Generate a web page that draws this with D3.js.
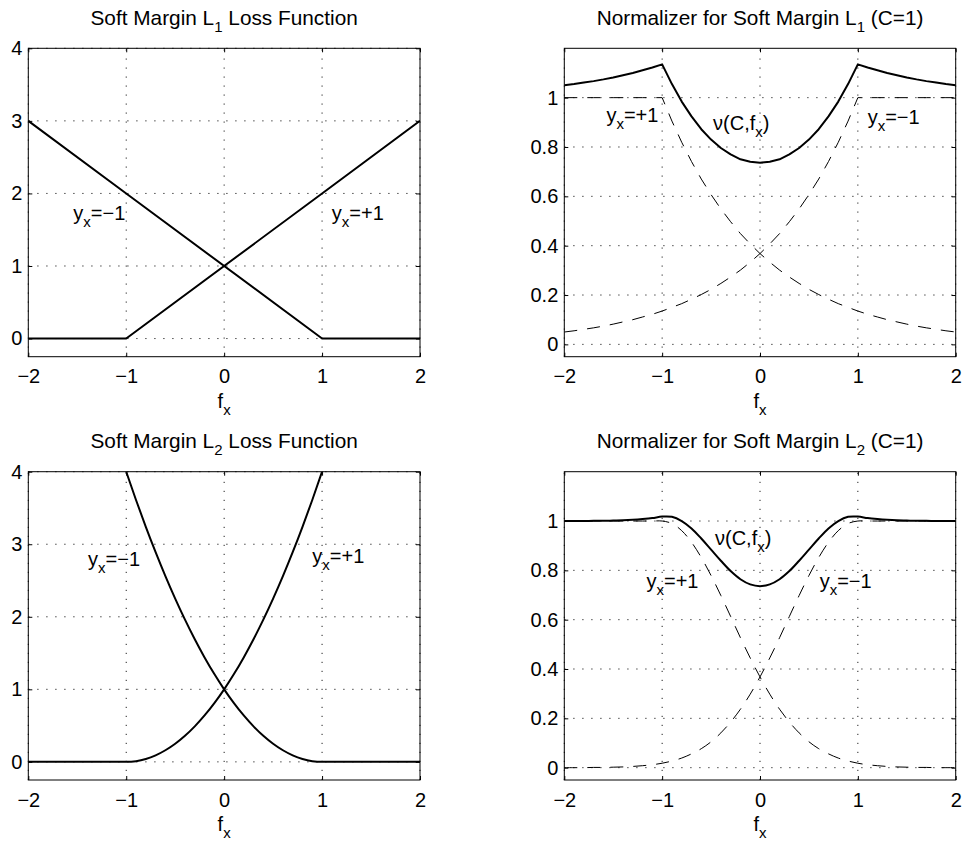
<!DOCTYPE html>
<html>
<head>
<meta charset="utf-8">
<script src="https://cdn.jsdelivr.net/npm/d3@7"></script>
<style>
  body { margin: 0; background: #fff; }
  svg text { font-family: "Liberation Sans", Arial, Helvetica, sans-serif; fill: #000; }
</style>
</head>
<body>
<div class="canvas"></div>
<script>
// tick values
const fTicks = [-2, -1, 0, 1, 2];
const lossTicks = [0, 1, 2, 3, 4];
const normTicks = [0, 0.2, 0.4, 0.6, 0.8, 1];

// soft margin L1 loss (hinge), breakpoints only
const l1F = [-2, -1, 1, 2];
const l1Plus = [0, 0, 2, 3];
const l1Minus = [3, 2, 0, 0];

// soft margin L2 loss (squared hinge)
const l2F = [-2, -1, -0.9, -0.8, -0.7, -0.6, -0.5, -0.4, -0.3, -0.2, -0.1, 0,
  0.1, 0.2, 0.3, 0.4, 0.5, 0.6, 0.7, 0.8, 0.9, 1, 2];
const l2Plus = [0, 0, 0.01, 0.04, 0.09, 0.16, 0.25, 0.36, 0.49, 0.64, 0.81, 1,
  1.21, 1.44, 1.69, 1.96, 2.25, 2.56, 2.89, 3.24, 3.61, 4, 9];
const l2Minus = [9, 4, 3.61, 3.24, 2.89, 2.56, 2.25, 1.96, 1.69, 1.44, 1.21, 1,
  0.81, 0.64, 0.49, 0.36, 0.25, 0.16, 0.09, 0.04, 0.01, 0, 0];

// f grid for the normalizer curves
const fGrid = [-2, -1.9, -1.8, -1.7, -1.6, -1.5, -1.4, -1.3, -1.2, -1.1, -1,
  -0.9, -0.8, -0.7, -0.6, -0.5, -0.4, -0.3, -0.2, -0.1, 0,
  0.1, 0.2, 0.3, 0.4, 0.5, 0.6, 0.7, 0.8, 0.9, 1,
  1.1, 1.2, 1.3, 1.4, 1.5, 1.6, 1.7, 1.8, 1.9, 2];

// normalizer, L1 (C=1)
const norm1Plus = [1, 1, 1, 1, 1, 1, 1, 1, 1, 1, 1,
  0.905, 0.819, 0.741, 0.670, 0.607, 0.549, 0.497, 0.449, 0.407, 0.368,
  0.333, 0.301, 0.273, 0.247, 0.223, 0.202, 0.183, 0.165, 0.150, 0.135,
  0.122, 0.111, 0.100, 0.091, 0.082, 0.074, 0.067, 0.061, 0.055, 0.050];
const norm1Minus = [0.050, 0.055, 0.061, 0.067, 0.074, 0.082, 0.091, 0.100, 0.111, 0.122,
  0.135, 0.150, 0.165, 0.183, 0.202, 0.223, 0.247, 0.273, 0.301, 0.333,
  0.368, 0.407, 0.449, 0.497, 0.549, 0.607, 0.670, 0.741, 0.819, 0.905,
  1, 1, 1, 1, 1, 1, 1, 1, 1, 1, 1];
const norm1Total = [1.050, 1.055, 1.061, 1.067, 1.074, 1.082, 1.091, 1.100, 1.111, 1.122, 1.135,
  1.055, 0.984, 0.924, 0.872, 0.830, 0.796, 0.770, 0.750, 0.740, 0.736,
  0.740, 0.750, 0.770, 0.796, 0.830, 0.872, 0.924, 0.984, 1.055, 1.135,
  1.122, 1.111, 1.100, 1.091, 1.082, 1.074, 1.067, 1.061, 1.055, 1.050];

// normalizer, L2 (C=1)
const norm2Plus = [1, 1, 1, 1, 1, 1, 1, 1, 1, 1, 1,
  0.990, 0.961, 0.914, 0.852, 0.779, 0.698, 0.613, 0.527, 0.445, 0.368,
  0.298, 0.237, 0.185, 0.141, 0.105, 0.077, 0.056, 0.039, 0.027, 0.018,
  0.012, 0.008, 0.005, 0.003, 0.002, 0.001, 0.001, 0.000, 0.000, 0.000];
const norm2Minus = [0.000, 0.000, 0.000, 0.001, 0.001, 0.002, 0.003, 0.005, 0.008, 0.012,
  0.018, 0.027, 0.039, 0.056, 0.077, 0.105, 0.141, 0.185, 0.237, 0.298,
  0.368, 0.445, 0.527, 0.613, 0.698, 0.779, 0.852, 0.914, 0.961, 0.990,
  1, 1, 1, 1, 1, 1, 1, 1, 1, 1, 1];
const norm2Total = [1.000, 1.000, 1.000, 1.001, 1.001, 1.002, 1.003, 1.005, 1.008, 1.012, 1.018,
  1.017, 1.000, 0.970, 0.929, 0.884, 0.839, 0.797, 0.764, 0.743, 0.736,
  0.743, 0.764, 0.797, 0.839, 0.884, 0.929, 0.970, 1.000, 1.017, 1.018,
  1.012, 1.008, 1.005, 1.003, 1.002, 1.001, 1.001, 1.000, 1.000, 1.000];

const solid = {width: 2, dash: null};
const dashed = {width: 1, dash: '13,10'};

// the four subplots
const panels = [
  {
    left: 28.3, top: 48.3, width: 391.7, height: 308.4,
    yDomain: [-0.25, 4], yTicks: lossTicks,
    title: ['Soft Margin L', '1', ' Loss Function'],
    curve: d3.curveLinear,
    series: [
      {f: l1F, v: l1Plus, style: solid},
      {f: l1F, v: l1Minus, style: solid}
    ],
    labels: [
      {f: -1.54, v: 1.64, parts: ['y', 'x', '=\u22121']},
      {f: 1.10, v: 1.64, parts: ['y', 'x', '=+1']}
    ]
  },
  {
    left: 564.3, top: 48.3, width: 391.4, height: 308.4,
    yDomain: [-0.05, 1.2], yTicks: normTicks,
    title: ['Normalizer for Soft Margin L', '1', ' (C=1)'],
    curve: d3.curveLinear,
    series: [
      {f: fGrid, v: norm1Plus, style: dashed},
      {f: fGrid, v: norm1Minus, style: dashed},
      {f: fGrid, v: norm1Total, style: solid}
    ],
    labels: [
      {f: -1.57, v: 0.903, parts: ['y', 'x', '=+1']},
      {f: -0.48, v: 0.870, parts: ['\u03bd(C,f', 'x', ')']},
      {f: 1.10, v: 0.894, parts: ['y', 'x', '=\u22121']}
    ]
  },
  {
    left: 28.3, top: 471.7, width: 391.7, height: 308.3,
    yDomain: [-0.25, 4], yTicks: lossTicks,
    title: ['Soft Margin L', '2', ' Loss Function'],
    curve: d3.curveMonotoneX,
    series: [
      {f: l2F, v: l2Plus, style: solid},
      {f: l2F, v: l2Minus, style: solid}
    ],
    labels: [
      {f: -1.39, v: 2.70, parts: ['y', 'x', '=\u22121']},
      {f: 0.90, v: 2.74, parts: ['y', 'x', '=+1']}
    ]
  },
  {
    left: 564.3, top: 471.7, width: 391.4, height: 308.3,
    yDomain: [-0.05, 1.2], yTicks: normTicks,
    title: ['Normalizer for Soft Margin L', '2', ' (C=1)'],
    curve: d3.curveCatmullRom,
    series: [
      {f: fGrid, v: norm2Plus, style: dashed},
      {f: fGrid, v: norm2Minus, style: dashed},
      {f: fGrid, v: norm2Total, style: solid}
    ],
    labels: [
      {f: -0.46, v: 0.904, parts: ['\u03bd(C,f', 'x', ')']},
      {f: -1.16, v: 0.729, parts: ['y', 'x', '=+1']},
      {f: 0.61, v: 0.729, parts: ['y', 'x', '=\u22121']}
    ]
  }
];

const fontSize = 20;
const titleSize = 20.8;
const subSize = 15;
const subShift = 7;
const fmt = d3.format('~g');

const svg = d3.select('.canvas').append('svg')
    .attr('width', 964)
    .attr('height', 843);

// text with a subscript in the middle: base, sub, rest
function subText(sel, parts) {
  sel.append('tspan').text(parts[0]);
  sel.append('tspan').attr('dy', subShift).attr('font-size', subSize).text(parts[1]);
  if (parts[2]) sel.append('tspan').attr('dy', -subShift).text(parts[2]);
}

function styleAxis(g) {
  g.select('.domain').remove();
  g.attr('font-size', fontSize)
   .attr('font-family', '"Liberation Sans", Arial, Helvetica, sans-serif');
  g.selectAll('.tick line').attr('stroke', '#000');
}

panels.forEach((p, i) => {
  const x = d3.scaleLinear().domain([-2, 2]).range([p.left, p.left + p.width]);
  const y = d3.scaleLinear().domain(p.yDomain).range([p.top + p.height, p.top]);
  const bottom = p.top + p.height;
  const right = p.left + p.width;

  const graph = svg.append('g');

  // dotted grid
  const grid = graph.append('g')
      .attr('stroke', '#222')
      .attr('stroke-width', 1)
      .attr('stroke-dasharray', '1.2,7.8');
  grid.selectAll('.vg').data(fTicks).enter().append('line')
      .attr('x1', d => x(d)).attr('x2', d => x(d))
      .attr('y1', bottom).attr('y2', p.top);
  grid.selectAll('.hg').data(p.yTicks).enter().append('line')
      .attr('x1', p.left).attr('x2', right)
      .attr('y1', d => y(d)).attr('y2', d => y(d));

  // curves, clipped to the axes box
  const clipId = 'clip' + i;
  svg.append('clipPath').attr('id', clipId)
    .append('rect')
      .attr('x', p.left).attr('y', p.top)
      .attr('width', p.width).attr('height', p.height);

  const line = d3.line()
      .x(d => x(d[0]))
      .y(d => y(d[1]))
      .curve(p.curve);

  const curves = graph.append('g').attr('clip-path', `url(#${clipId})`);
  p.series.forEach(s => {
    curves.append('path')
        .datum(s.f.map((f, k) => [f, s.v[k]]))
        .attr('fill', 'none')
        .attr('stroke', '#000')
        .attr('stroke-width', s.style.width)
        .attr('stroke-dasharray', s.style.dash)
        .attr('stroke-linejoin', 'round')
        .attr('d', line);
  });

  // axes with inward ticks on all four sides
  graph.append('g')
      .attr('transform', `translate(0, ${bottom})`)
      .call(d3.axisBottom(x).tickValues(fTicks).tickSize(-4).tickPadding(12.5).tickFormat(fmt))
      .call(styleAxis);
  graph.append('g')
      .attr('transform', `translate(0, ${p.top})`)
      .call(d3.axisTop(x).tickValues(fTicks).tickSize(-4).tickFormat(''))
      .call(styleAxis);
  graph.append('g')
      .attr('transform', `translate(${p.left}, 0)`)
      .call(d3.axisLeft(y).tickValues(p.yTicks).tickSize(-4).tickPadding(6).tickFormat(fmt))
      .call(styleAxis);
  graph.append('g')
      .attr('transform', `translate(${right}, 0)`)
      .call(d3.axisRight(y).tickValues(p.yTicks).tickSize(-4).tickFormat(''))
      .call(styleAxis);

  // box
  graph.append('rect')
      .attr('x', p.left).attr('y', p.top)
      .attr('width', p.width).attr('height', p.height)
      .attr('fill', 'none')
      .attr('stroke', '#000')
      .attr('stroke-width', 1);

  // title
  graph.append('text')
      .attr('x', (p.left + right) / 2)
      .attr('y', p.top - 23.5)
      .attr('text-anchor', 'middle')
      .attr('font-size', titleSize)
      .call(subText, p.title);

  // x label
  graph.append('text')
      .attr('x', (p.left + right) / 2)
      .attr('y', bottom + 51)
      .attr('text-anchor', 'middle')
      .attr('font-size', fontSize)
      .call(subText, ['f', 'x']);

  // curve labels
  p.labels.forEach(l => {
    graph.append('text')
        .attr('x', x(l.f))
        .attr('y', y(l.v))
        .attr('font-size', fontSize)
        .call(subText, l.parts);
  });
});
</script>
</body>
</html>
